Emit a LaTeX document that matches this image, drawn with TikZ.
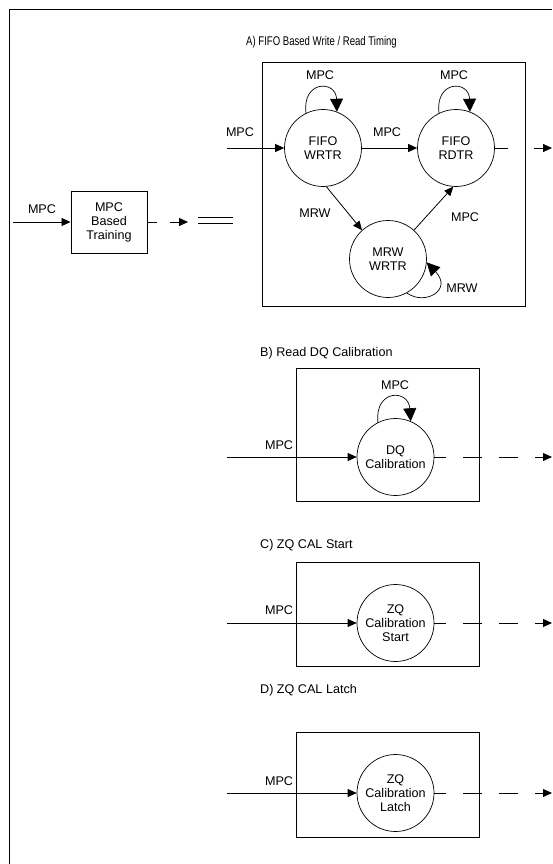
\documentclass[tikz,border=0pt]{standalone}
\usepackage{fontspec}
\setmainfont{Liberation Sans}
\newfontfamily\narrowsans[FakeStretch=0.76]{Liberation Sans}
\usetikzlibrary{arrows.meta}
\begin{document}
\begin{tikzpicture}[x=1pt,y=-1pt,
  every node/.style={font=\fontsize{12.6}{14}\selectfont, inner sep=0pt},
  state/.style={draw, circle, minimum size=77pt, line width=0.7pt, align=center},
  frameline/.style={line width=1.1pt},
  boxnode/.style={draw, line width=0.9pt},
  conn/.style={line width=0.8pt, -{Triangle[length=9pt,width=8pt]}},
  loopconn/.style={line width=0.7pt, -{Triangle[length=13pt,width=13pt]}},
  dashA/.style={dash pattern=on 13pt off 26pt},
  dashB/.style={dash pattern=on 19pt off 17pt, dash phase=7pt},
  ttl/.style={anchor=west},
  ttlA/.style={anchor=west, font=\narrowsans\fontsize{12.6}{14}\selectfont}
]
\useasboundingbox (0,0) rectangle (552,864);
\fill[white] (0,0) rectangle (552,864);
\draw[frameline] (9.5,864) -- (9.5,9.5) -- (552,9.5);

% ---- left: MPC based training
\node[boxnode, minimum width=76pt, minimum height=62pt, align=center] (mbt) at (109,222) {MPC\\Based\\Training};
\coordinate (lin) at (13,222);
\coordinate (lout) at (188,222);
\node (lmpc) at (42,209) {MPC};
\draw[conn] (lin) -- (mbt.west);
\draw[conn, dash pattern=on 10pt off 13pt] (mbt.east) -- (lout);
\draw[line width=0.8pt] (198,217) -- (233,217) (198,223) -- (233,223);

% ---- A) FIFO
\node[ttlA] (tA) at (246,42) {A) FIFO Based Write / Read Timing};
\node[boxnode, minimum width=262.3pt, minimum height=244.7pt] (boxA) at (393.85,184.35) {};
\node[state] (fw) at (323,148) {FIFO\\WRTR};
\node[state] (fr) at (456,148) {FIFO\\RDTR};
\node[state] (mw) at (388,259) {MRW\\WRTR};
\coordinate (ain) at (227,148);
\coordinate (aout) at (552,148);
\draw[conn] (ain) -- (fw.west);
\draw[conn] (fw.east) -- (fr.west);
\draw[conn] (fw.275) -- (mw.132);
\draw[conn] (mw.48) -- (fr.266);
\draw[conn, dashA] (fr.east) -- (aout);
\draw[loopconn] (fw.116) .. controls (302,80) and (336,80) .. (fw.69);
\draw[loopconn] (fr.116) .. controls (435,80) and (469,80) .. (fr.69);
\draw[loopconn] (mw.299) .. controls (425,306) and (453,290) .. (mw.355);
\node (la1) at (320,75) {MPC};
\node (la2) at (454,75) {MPC};
\node (la3) at (240,132) {MPC};
\node (la4) at (387,132) {MPC};
\node (la5) at (315,213) {MRW};
\node (la6) at (465,217) {MPC};
\node (la7) at (462,288) {MRW};

% ---- B) Read DQ Calibration
\node[ttl] (tB) at (260,353) {B) Read DQ Calibration};
\node[boxnode, minimum width=182.6pt, minimum height=132.7pt] (boxB) at (388,434.65) {};
\node[state] (dq) at (395.5,457) {DQ\\Calibration};
\coordinate (bin) at (227,457);
\coordinate (bout) at (552,457);
\draw[conn] (bin) -- (dq.west);
\draw[conn, dashB] (dq.east) -- (bout);
\draw[loopconn] (dq.117) .. controls (374.5,389) and (408.5,389) .. (dq.67);
\node (lb1) at (395,385) {MPC};
\node (lb2) at (279,445) {MPC};

% ---- C) ZQ CAL Start
\node[ttl] (tC) at (260,545) {C) ZQ CAL Start};
\node[boxnode, minimum width=182.6pt, minimum height=103.8pt] (boxC) at (388,614.6) {};
\node[state] (zs) at (395.5,623) {ZQ\\Calibration\\Start};
\coordinate (cin) at (227,623);
\coordinate (cout) at (552,623);
\draw[conn] (cin) -- (zs.west);
\draw[conn, dashB] (zs.east) -- (cout);
\node (lc1) at (279,610) {MPC};

% ---- D) ZQ CAL Latch
\node[ttl] (tD) at (260,690) {D) ZQ CAL Latch};
\node[boxnode, minimum width=182.6pt, minimum height=104.8pt] (boxD) at (388,785.1) {};
\node[state] (zl) at (395.5,793) {ZQ\\Calibration\\Latch};
\coordinate (din) at (227,793);
\coordinate (dout) at (552,793);
\draw[conn] (din) -- (zl.west);
\draw[conn, dashB] (zl.east) -- (dout);
\node (ld1) at (279,781) {MPC};
\end{tikzpicture}
\end{document}
